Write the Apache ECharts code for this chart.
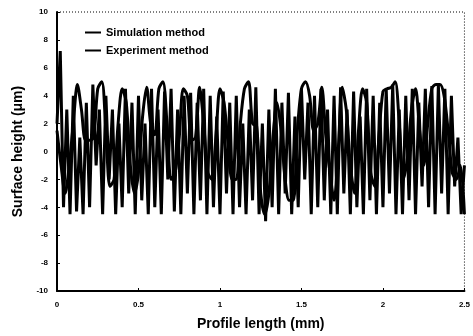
<!DOCTYPE html>
<html>
<head>
<meta charset="utf-8">
<script src="https://cdn.jsdelivr.net/npm/echarts@6/dist/echarts.min.js"></script>
<style>
  html, body { margin: 0; padding: 0; background: #fff; }
  #chart { width: 473px; height: 336px; }
</style>
</head>
<body>
<div id="chart"></div>
<script>
// simulation profile, sampled every 0.025 mm
const simStep = 0.025
const simHeights = [
  1.5, -1, -3, -1, 2, 4.8, 3, 0.8, 0.8, 1,
  4.5, 5, 1.5, -2.5, -2, 2, 4.5, 3.5, -1, -3,
  -1.5, 2.5, 4.6, 2, 1.2, 4.5, 5, 2, -2, -1.5,
  1, 4.5, 4, 0.8, 1, 4.6, 2, -1.5, -2, 1,
  4.5, 3.5, 0.5, -2, -2, 2, 4.5, 5, 2, 1.8,
  -3, -4.5, -3, 1, 3.5, 1.5, -2, -3.5, -3.5, 1.5,
  4.5, 5, 4, 1.5, 2, 4.6, 1, -1.5, -3.5, 0,
  4.6, 3, -1, -3, 1.5, 4.5, 3.5, -1.5, -2.5, 1,
  4.3, 4.5, 4.6, 5, 2, -2, -0.5, 3, 4.5, 1.5,
  -1, 2, 4.5, 4.8, 4.8, 4, 1.5, -1.5, -2, -1,
  -4.5
]

// measured profile, sampled every 0.02 mm
const expStep = 0.02
const expHeights = [
  2, 7.2, -4, 3, -4.5, 4, -4.3, 1, -4.5, 3.5,
  -4, 4.8, -1, 3, -4.5, 4, -2, 3, -4.5, 2,
  -4, 4.5, -3, 3.5, -4.5, 4, -3.5, 2, -4.5, 4.5,
  -4, 3, -4.5, 4.3, -2, 4.5, -4.3, 3, -4.5, 4,
  -3, 4.2, -4.5, 3.5, -3.5, 4.5, -4.5, 4, -4, 2.5,
  -4.5, 4.3, -3, 3.5, -4.5, 4, -4, 2, -4.5, 3,
  -3.5, 4.6, -4.5, 2, -5, 3, -4, 4.5, -4.5, 3.5,
  -3, 4.2, -4.5, 2.5, -4, 4.5, -2, 3.5, -4.5, 4,
  -4, 4.5, -3.5, 3, -4.5, 4, -4.5, 4.6, -3, 3,
  -4.5, 4.3, -4, 2.5, -4.5, 4.5, -3.5, 4, -4.5, 3.5,
  -4, 4.5, -3, 4.8, -4.5, 3, -4.5, 4, -3.5, 4.5,
  -4.5, 3.5, -2.5, 4.5, -4, 4.7, -4.5, 4.8, -3, 4.5,
  -4.5, 4, -2.5, 1, -4.5, -1
]

const xTicks = [0, 0.5, 1, 1.5, 2, 2.5]
const yTicks = [-10, -8, -6, -4, -2, 0, 2, 4, 6, 8, 10]

const toPoints = (values, step) =>
  values.map((v, i) => [+(i * step).toFixed(3), v])

const font = '"Liberation Sans", Arial, sans-serif'
const chart = echarts.init(document.getElementById('chart'), null, { renderer: 'canvas' })

chart.setOption({
  animation: false,
  backgroundColor: '#fff',
  grid: {
    left: 57, right: 6, top: 12, bottom: 43,
    show: true,
    borderColor: '#000',
    borderWidth: 1,
    borderType: [1, 2],
  },
  legend: {
    orient: 'vertical',
    left: 80,
    top: 22,
    itemGap: 7,
    itemWidth: 16,
    itemHeight: 2,
    icon: 'rect',
    textStyle: { fontFamily: font, fontWeight: 'bold', fontSize: 11, color: '#000' },
    data: ['Simulation method', 'Experiment method'],
  },
  xAxis: {
    type: 'value',
    min: xTicks[0],
    max: xTicks[xTicks.length - 1],
    interval: 0.5,
    name: 'Profile length (mm)',
    nameLocation: 'middle',
    nameGap: 26,
    nameTextStyle: { fontFamily: font, fontWeight: 'bold', fontSize: 14, color: '#000' },
    axisLine: { show: true, onZero: false, lineStyle: { color: '#000', width: 2 } },
    axisTick: { show: true, inside: true, length: 3, lineStyle: { color: '#000', width: 1 } },
    axisLabel: { fontFamily: font, fontWeight: 'bold', fontSize: 8, color: '#000', margin: 10 },
    splitLine: { show: false },
  },
  yAxis: {
    type: 'value',
    min: yTicks[0],
    max: yTicks[yTicks.length - 1],
    interval: 2,
    name: 'Surface height (\u03bcm)',
    nameLocation: 'middle',
    nameGap: 32,
    nameTextStyle: { fontFamily: font, fontWeight: 'bold', fontSize: 14, color: '#000' },
    axisLine: { show: true, onZero: false, lineStyle: { color: '#000', width: 2 } },
    axisTick: { show: true, inside: true, length: 3, lineStyle: { color: '#000', width: 1 } },
    axisLabel: { fontFamily: font, fontWeight: 'bold', fontSize: 8, color: '#000', margin: 9 },
    splitLine: { show: false },
  },
  series: [
    {
      name: 'Simulation method',
      type: 'line',
      data: toPoints(simHeights, simStep),
      showSymbol: false,
      smooth: 0.3,
      color: '#000',
      lineStyle: { color: '#000', width: 3 },
    },
    {
      name: 'Experiment method',
      type: 'line',
      data: toPoints(expHeights, expStep),
      showSymbol: false,
      color: '#000',
      lineStyle: { color: '#000', width: 3 },
    },
  ],
})
</script>
</body>
</html>
